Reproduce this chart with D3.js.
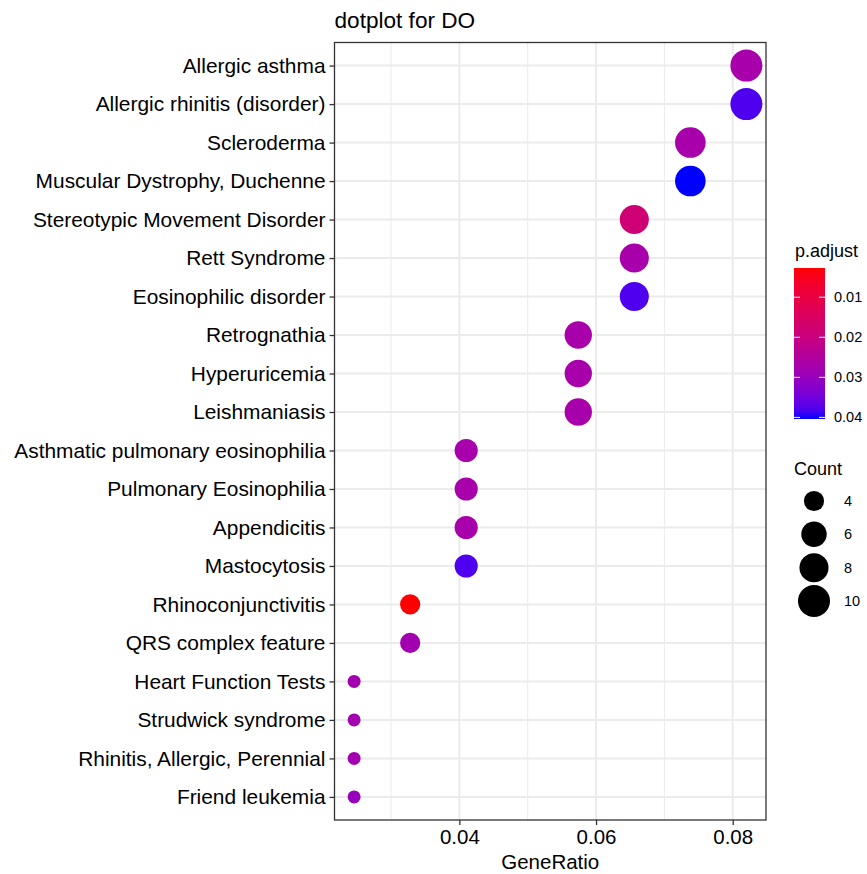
<!DOCTYPE html>
<html>
<head>
<meta charset="utf-8">
<script src="https://cdn.jsdelivr.net/npm/d3@7"></script>
<style>
  body { margin: 0; background: #fff; }
  svg { font-family: 'Liberation Sans', Helvetica, Arial, sans-serif; }
</style>
</head>
<body>
<div id="chart"></div>
<script>
const categories = [
  'Allergic asthma', 'Allergic rhinitis (disorder)', 'Scleroderma',
  'Muscular Dystrophy, Duchenne', 'Stereotypic Movement Disorder', 'Rett Syndrome',
  'Eosinophilic disorder', 'Retrognathia', 'Hyperuricemia', 'Leishmaniasis',
  'Asthmatic pulmonary eosinophilia', 'Pulmonary Eosinophilia', 'Appendicitis',
  'Mastocytosis', 'Rhinoconjunctivitis', 'QRS complex feature',
  'Heart Function Tests', 'Strudwick syndrome', 'Rhinitis, Allergic, Perennial',
  'Friend leukemia'
];
const geneRatio = [
  0.0820, 0.0820, 0.0738, 0.0738, 0.0656, 0.0656, 0.0656, 0.0574, 0.0574, 0.0574,
  0.0410, 0.0410, 0.0410, 0.0410, 0.0328, 0.0328, 0.0246, 0.0246, 0.0246, 0.0246
];
const counts = [10, 10, 9, 9, 8, 8, 8, 7, 7, 7, 5, 5, 5, 5, 4, 4, 3, 3, 3, 3];
const pAdjust = [
  0.027, 0.038, 0.027, 0.0404, 0.018, 0.027, 0.038, 0.027, 0.027, 0.027,
  0.027, 0.027, 0.027, 0.038, 0.0027, 0.028, 0.028, 0.028, 0.028, 0.030
];
const xTicks = [0.04, 0.06, 0.08];
const xMinorTicks = [0.03, 0.05, 0.07];
const colorTicks = [0.01, 0.02, 0.03, 0.04];
const countTicks = [4, 6, 8, 10];

const data = categories.map((name, i) => ({
  name, ratio: geneRatio[i], count: counts[i], p: pAdjust[i]
}));

const W = 867, H = 874;
const panel = { left: 334.5, right: 766, top: 42.5, bottom: 820 };

const svg = d3.select('#chart').append('svg')
  .attr('width', W)
  .attr('height', H);

// ggplot style 5% expansion
const [xMin, xMax] = d3.extent(geneRatio);
const pad = (xMax - xMin) * 0.05;
const xScale = d3.scaleLinear()
  .domain([xMin - pad, xMax + pad])
  .range([panel.left, panel.right]);

const yScale = d3.scalePoint()
  .domain(categories)
  .range([panel.top, panel.bottom])
  .padding(0.6);

const pExtent = d3.extent(pAdjust);
const colorScale = d3.scaleLinear()
  .domain(pExtent)
  .range(['red', 'blue'])
  .interpolate(d3.interpolateLab);

const cExtent = d3.extent(counts);
const sizeT = d3.scaleLinear().domain(cExtent).range([0, 1]);
const rScale = d3.scaleSqrt().domain([0, 1]).range([6.5, 16]);
const radius = c => rScale(sizeT(c));

// grid
const grid = svg.append('g');
grid.selectAll('.minor')
  .data(xMinorTicks)
  .join('line')
  .attr('x1', d => xScale(d)).attr('x2', d => xScale(d))
  .attr('y1', panel.top).attr('y2', panel.bottom)
  .attr('stroke', '#ebebeb').attr('stroke-width', 1);
grid.selectAll('.major')
  .data(xTicks)
  .join('line')
  .attr('x1', d => xScale(d)).attr('x2', d => xScale(d))
  .attr('y1', panel.top).attr('y2', panel.bottom)
  .attr('stroke', '#ebebeb').attr('stroke-width', 2);
grid.selectAll('.hmajor')
  .data(categories)
  .join('line')
  .attr('x1', panel.left).attr('x2', panel.right)
  .attr('y1', d => yScale(d)).attr('y2', d => yScale(d))
  .attr('stroke', '#ebebeb').attr('stroke-width', 2);

// dots
svg.append('g')
  .selectAll('circle')
  .data(data)
  .join('circle')
  .attr('cx', d => xScale(d.ratio))
  .attr('cy', d => yScale(d.name))
  .attr('r', d => radius(d.count))
  .attr('fill', d => colorScale(d.p));

// panel border
svg.append('rect')
  .attr('x', panel.left).attr('y', panel.top)
  .attr('width', panel.right - panel.left)
  .attr('height', panel.bottom - panel.top)
  .attr('fill', 'none')
  .attr('stroke', '#333').attr('stroke-width', 1.3);

// axes
const xAxis = d3.axisBottom(xScale)
  .tickValues(xTicks)
  .tickSize(5)
  .tickPadding(4)
  .tickFormat(d3.format('.2f'));

svg.append('g')
  .attr('transform', `translate(0,${panel.bottom})`)
  .call(xAxis)
  .call(g => g.select('.domain').remove())
  .call(g => g.selectAll('line').attr('stroke', '#333').attr('stroke-width', 1.3))
  .call(g => g.selectAll('text').attr('fill', '#000').attr('font-size', 20.5)
    .attr('font-family', 'Liberation Sans, Helvetica, Arial, sans-serif'));

const yAxis = d3.axisLeft(yScale)
  .tickSize(5)
  .tickPadding(4);

svg.append('g')
  .attr('transform', `translate(${panel.left},0)`)
  .call(yAxis)
  .call(g => g.select('.domain').remove())
  .call(g => g.selectAll('line').attr('stroke', '#333').attr('stroke-width', 1.3))
  .call(g => g.selectAll('text').attr('fill', '#000').attr('font-size', 20.9)
    .attr('font-family', 'Liberation Sans, Helvetica, Arial, sans-serif'));

// titles
svg.append('text')
  .attr('x', panel.left)
  .attr('y', 28)
  .attr('font-size', 22.6)
  .text('dotplot for DO');

svg.append('text')
  .attr('x', (panel.left + panel.right) / 2)
  .attr('y', 869)
  .attr('text-anchor', 'middle')
  .attr('font-size', 20.5)
  .text('GeneRatio');

// colour legend
const barX = 794, barW = 31, barTop = 268, barBottom = 419;
const defs = svg.append('defs');
const grad = defs.append('linearGradient')
  .attr('id', 'pgrad')
  .attr('x1', 0).attr('x2', 0).attr('y1', 0).attr('y2', 1);
grad.selectAll('stop')
  .data(d3.range(0, 1.0001, 0.05))
  .join('stop')
  .attr('offset', d => d)
  .attr('stop-color', d => colorScale(pExtent[0] + d * (pExtent[1] - pExtent[0])));

svg.append('text')
  .attr('x', barX + 1)
  .attr('y', 257)
  .attr('font-size', 18)
  .text('p.adjust');

svg.append('rect')
  .attr('x', barX).attr('y', barTop)
  .attr('width', barW).attr('height', barBottom - barTop)
  .attr('fill', 'url(#pgrad)');

const barScale = d3.scaleLinear()
  .domain(pExtent)
  .range([barTop, barBottom]);

const cbTicks = svg.append('g').selectAll('g')
  .data(colorTicks)
  .join('g')
  .attr('transform', d => `translate(0,${barScale(d)})`);

cbTicks.append('line')
  .attr('x1', barX).attr('x2', barX + 6)
  .attr('stroke', '#fff').attr('stroke-width', 1);
cbTicks.append('line')
  .attr('x1', barX + barW - 6).attr('x2', barX + barW)
  .attr('stroke', '#fff').attr('stroke-width', 1);
cbTicks.append('text')
  .attr('x', 834)
  .attr('dy', '0.35em')
  .attr('font-size', 14.5)
  .text(d => d3.format('.2f')(d));

// size legend
svg.append('text')
  .attr('x', 794)
  .attr('y', 475)
  .attr('font-size', 18)
  .text('Count');

const sizeY = d3.scalePoint()
  .domain(countTicks)
  .range([501, 601]);

const sizeLegend = svg.append('g').selectAll('g')
  .data(countTicks)
  .join('g')
  .attr('transform', d => `translate(814,${sizeY(d)})`);

sizeLegend.append('circle')
  .attr('r', d => radius(d))
  .attr('fill', '#000');

sizeLegend.append('text')
  .attr('x', 30)
  .attr('dy', '0.35em')
  .attr('font-size', 14.5)
  .text(d => d);
</script>
</body>
</html>
